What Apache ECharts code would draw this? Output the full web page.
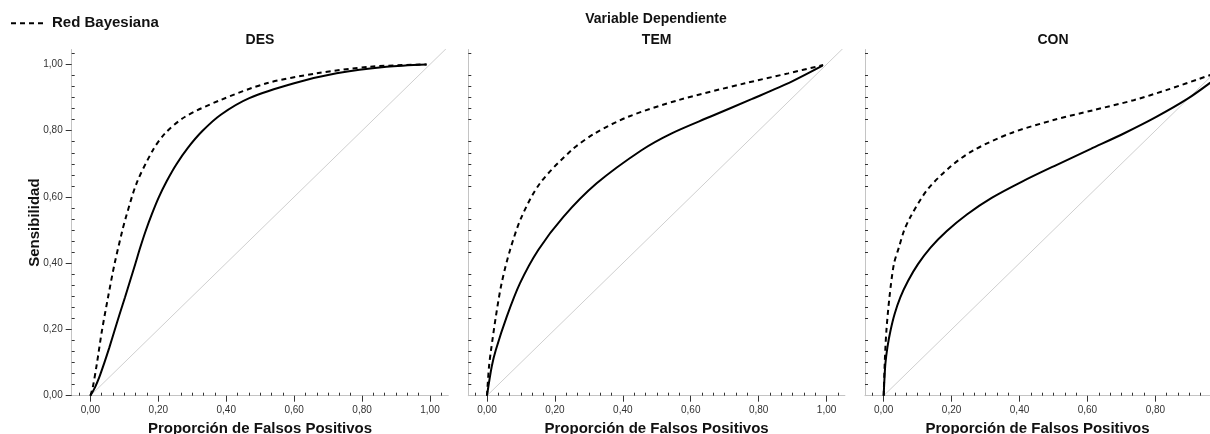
<!DOCTYPE html>
<html>
<head>
<meta charset="utf-8">
<script src="https://cdn.jsdelivr.net/npm/echarts@6/dist/echarts.min.js"></script>
<style>
html,body{margin:0;padding:0;background:#fff;}
#chart{width:1210px;height:434px;}
</style>
</head>
<body>
<div id="chart"></div>
<script>
// ---------- data ----------
var panels = ['DES', 'TEM', 'CON'];
var legendLabel = 'Red Bayesiana';
var otherLabel = 'Modelo';

var desModel = [[0,0],[0.014,0.026],[0.026,0.055],[0.040,0.096],[0.056,0.146],[0.071,0.196],[0.086,0.246],[0.102,0.297],[0.117,0.347],[0.132,0.397],[0.147,0.448],[0.163,0.498],[0.181,0.548],[0.201,0.598],[0.225,0.648],[0.253,0.698],[0.287,0.748],[0.329,0.798],[0.384,0.848],[0.468,0.898],[0.600,0.943],[0.725,0.973],[0.872,0.993],[0.990,1.000]];
var desBayes = [[0,0],[0.007,0.025],[0.019,0.096],[0.034,0.196],[0.052,0.297],[0.071,0.397],[0.094,0.498],[0.105,0.540],[0.136,0.641],[0.184,0.741],[0.220,0.792],[0.279,0.842],[0.382,0.892],[0.519,0.943],[0.666,0.973],[0.823,0.993],[0.990,1.000]];

var temModel = [[0,0],[0.014,0.088],[0.026,0.138],[0.058,0.238],[0.097,0.339],[0.151,0.440],[0.225,0.540],[0.323,0.641],[0.455,0.741],[0.544,0.792],[0.657,0.842],[0.779,0.895],[0.897,0.948],[0.988,0.996]];
var temBayes = [[0,0],[0.006,0.088],[0.012,0.138],[0.026,0.238],[0.043,0.339],[0.068,0.440],[0.102,0.540],[0.156,0.641],[0.249,0.741],[0.318,0.792],[0.416,0.842],[0.563,0.892],[0.760,0.943],[0.887,0.973],[0.990,0.998]];

var conModel = [[0,0],[0.002,0.045],[0.005,0.096],[0.011,0.146],[0.020,0.196],[0.032,0.246],[0.049,0.297],[0.072,0.347],[0.101,0.397],[0.138,0.447],[0.186,0.497],[0.245,0.547],[0.318,0.597],[0.409,0.647],[0.510,0.697],[0.610,0.745],[0.710,0.793],[0.800,0.840],[0.893,0.895],[0.962,0.945]];
var conBayes = [[0,0],[0.003,0.096],[0.008,0.196],[0.017,0.297],[0.030,0.397],[0.045,0.448],[0.060,0.498],[0.079,0.540],[0.128,0.621],[0.196,0.691],[0.265,0.741],[0.373,0.792],[0.500,0.832],[0.618,0.862],[0.736,0.892],[0.834,0.923],[0.962,0.968]];

var diagonal = [[0,0],[1.1,1.1]];

var majorTicks = [0, 0.2, 0.4, 0.6, 0.8, 1.0];
var tickLabels = ['0,00', '0,20', '0,40', '0,60', '0,80', '1,00'];

var modelData = [desModel, temModel, conModel];
var bayesData = [desBayes, temBayes, conBayes];

// ---------- layout ----------
var FONT = 'Liberation Sans, Arial, sans-serif';
var gridRects = [
  {left: 71.7, width: 376.6},
  {left: 468.3, width: 376.6},
  {left: 865, width: 345}
];
var xMin = -0.055;
var xUnit = 339.6;
var gTop = 49.5, gHeight = 346.2;
var yMin = 0, yMax = 1.045;

// minor tick positions every 1/30, skipping the labelled ones
var xMinor = [], yMinor = [];
for (var k = -1; k <= 31; k++) {
  if (k % 6 === 0) continue;
  xMinor.push(k / 30);
  if (k > 0) yMinor.push(k / 30);
}

function fmt(v) {
  for (var i = 0; i < majorTicks.length; i++) {
    if (Math.abs(majorTicks[i] - v) < 1e-6) return tickLabels[i];
  }
  return '';
}

var grids = [], xAxes = [], yAxes = [], series = [], titles = [];
titles.push({text: 'Variable Dependiente', left: 656, top: 19, textAlign: 'center', textVerticalAlign: 'middle', padding: 0,
  textStyle: {fontFamily: FONT, fontSize: 14, fontWeight: 'bold', color: '#111'}});

function mkGrid(r) {
  return {left: r.left, top: gTop, width: r.width, height: gHeight, containLabel: false, outerBoundsMode: 'none'};
}

var titleCenters = [260, 656.6, 1053];
for (var p = 0; p < 3; p++) {
  var r = gridRects[p];
  var xMax = xMin + r.width / xUnit;
  grids.push(mkGrid(r));
  titles.push({text: panels[p], left: titleCenters[p], top: 40, textAlign: 'center', textVerticalAlign: 'middle', padding: 0,
    textStyle: {fontFamily: FONT, fontSize: 14, fontWeight: 'bold', color: '#111'}});
  xAxes.push({
    type: 'value', gridIndex: p, min: xMin, max: xMax,
    axisLine: {show: true, onZero: false, lineStyle: {color: '#c4c4c4', width: 1}},
    axisTick: {show: true, customValues: majorTicks, length: 6, lineStyle: {color: '#333', width: 1}},
    axisLabel: {show: true, customValues: majorTicks, formatter: fmt, fontFamily: FONT, fontSize: 10, color: '#333', margin: 10},
    splitLine: {show: false},
    name: 'Proporción de Falsos Positivos', nameLocation: 'middle', nameGap: 26, nameMoveOverlap: false,
    nameTextStyle: {fontFamily: FONT, fontSize: 15, fontWeight: 'bold', color: '#111'}
  });
  var yAx = {
    type: 'value', gridIndex: p, min: yMin, max: yMax,
    axisLine: {show: true, onZero: false, lineStyle: {color: '#c4c4c4', width: 1}},
    axisTick: {show: p === 0, customValues: majorTicks, length: 6, lineStyle: {color: '#333', width: 1}},
    axisLabel: {show: p === 0, customValues: majorTicks, formatter: fmt, fontFamily: FONT, fontSize: 10, color: '#333', margin: 9},
    splitLine: {show: false}
  };
  if (p === 0) {
    yAx.name = 'Sensibilidad';
    yAx.nameLocation = 'middle';
    yAx.nameGap = 29.5;
    yAx.nameMoveOverlap = false;
    yAx.nameTextStyle = {fontFamily: FONT, fontSize: 15, fontWeight: 'bold', color: '#111'};
  }
  yAxes.push(yAx);

  series.push({
    type: 'line', name: 'diag' + p, xAxisIndex: p, yAxisIndex: p, data: diagonal,
    symbol: 'none', silent: true, z: 1, lineStyle: {color: '#cfcfcf', width: 1}, animation: false
  });
  series.push({
    type: 'line', name: otherLabel, xAxisIndex: p, yAxisIndex: p, data: modelData[p],
    symbol: 'none', smooth: 0.3, z: 3, lineStyle: {color: '#000', width: 2}, animation: false
  });
  series.push({
    type: 'line', name: legendLabel, xAxisIndex: p, yAxisIndex: p, data: bayesData[p],
    symbol: 'none', smooth: 0.3, z: 4, lineStyle: {color: '#000', width: 2, type: [5, 4]}, itemStyle: {color: '#000'}, animation: false
  });
}
// overlay grids for the short inward minor ticks
for (var q = 0; q < 3; q++) {
  var rr = gridRects[q];
  grids.push(mkGrid(rr));
  xAxes.push({
    type: 'value', gridIndex: 3 + q, min: xMin, max: xMin + rr.width / xUnit, position: 'bottom',
    axisLine: {show: false, onZero: false},
    axisTick: {show: true, inside: true, customValues: xMinor, length: 3, lineStyle: {color: '#333', width: 1}},
    axisLabel: {show: false}, splitLine: {show: false}
  });
  yAxes.push({
    type: 'value', gridIndex: 3 + q, min: yMin, max: yMax, position: 'left',
    axisLine: {show: false, onZero: false},
    axisTick: {show: true, inside: true, customValues: yMinor, length: 3, lineStyle: {color: '#333', width: 1}},
    axisLabel: {show: false}, splitLine: {show: false}
  });
}

var chart = echarts.init(document.getElementById('chart'), null, {renderer: 'canvas'});
chart.setOption({
  animation: false,
  backgroundColor: '#fff',
  title: titles,
  legend: {
    data: [legendLabel], left: 10, top: 15.7, padding: 0, itemWidth: 36, itemHeight: 14,
    itemStyle: {opacity: 0},
    textStyle: {fontFamily: FONT, fontSize: 15, fontWeight: 'bold', color: '#111'},
    selectedMode: false
  },
  grid: grids,
  xAxis: xAxes,
  yAxis: yAxes,
  series: series
});
</script>
</body>
</html>
